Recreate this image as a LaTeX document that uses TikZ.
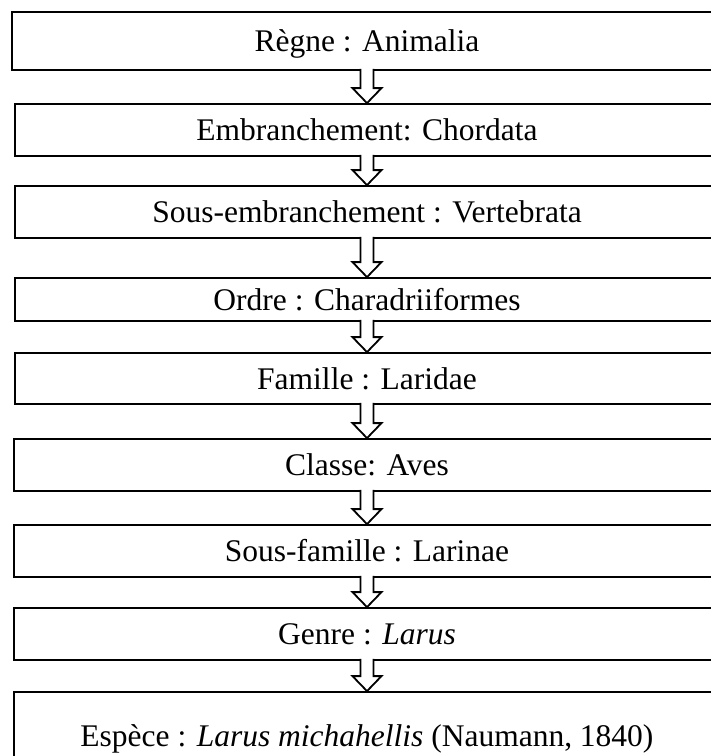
\documentclass[tikz,border=0pt]{standalone}
\usepackage{fontspec}
\setmainfont{Liberation Serif}
\usetikzlibrary{calc}

\begin{document}
\begin{tikzpicture}[x=1pt,y=-1pt,
    rank/.style={draw,line width=1.8pt,minimum width=704,inner sep=0pt,
      text height=21pt,text depth=0pt,font=\fontsize{31.5}{36}\selectfont},
    hollow/.style={draw,line width=1.8pt,fill=white,line join=miter}
  ]
    \clip (0,0) rectangle (711,756);
    \node[rank,minimum width=710,minimum height=58] (regne) at (367,41) {Règne : Animalia};
    \node[rank,minimum height=52] (embr) at (367,130) {Embranchement: Chordata};
    \node[rank,minimum height=52] (sousembr) at (367,212) {Sous-embranchement : Vertebrata};
    \node[rank,minimum height=43] (ordre) at (367,299.5) {Ordre : Charadriiformes};
    \node[rank,minimum height=51] (famille) at (367,378.5) {Famille : Laridae};
    \node[rank,minimum width=706,minimum height=52] (classe) at (367,465) {Classe: Aves};
    \node[rank,minimum width=706,minimum height=52] (sousfam) at (367,551) {Sous-famille : Larinae};
    \node[rank,minimum width=706,minimum height=52] (genre) at (367,634) {Genre : \textit{Larus}};
    \node[rank,minimum width=706,minimum height=88] (espece) at (367,736)
      {Espèce : \textit{Larus michahellis} (Naumann, 1840)};
    % hollow block arrows between ranks
    \foreach \a/\b in {regne/embr,embr/sousembr,sousembr/ordre,ordre/famille,
        famille/classe,classe/sousfam,sousfam/genre,genre/espece}
      \draw[hollow] ($(\a.south)+(-6.5,-2)$) -- ($(\b.north)+(-6.5,-15)$)
        -- ($(\b.north)+(-14.5,-15)$) -- (\b.north) -- ($(\b.north)+(14.5,-15)$)
        -- ($(\b.north)+(6.5,-15)$) -- ($(\a.south)+(6.5,-2)$);
  \end{tikzpicture}
\end{document}
